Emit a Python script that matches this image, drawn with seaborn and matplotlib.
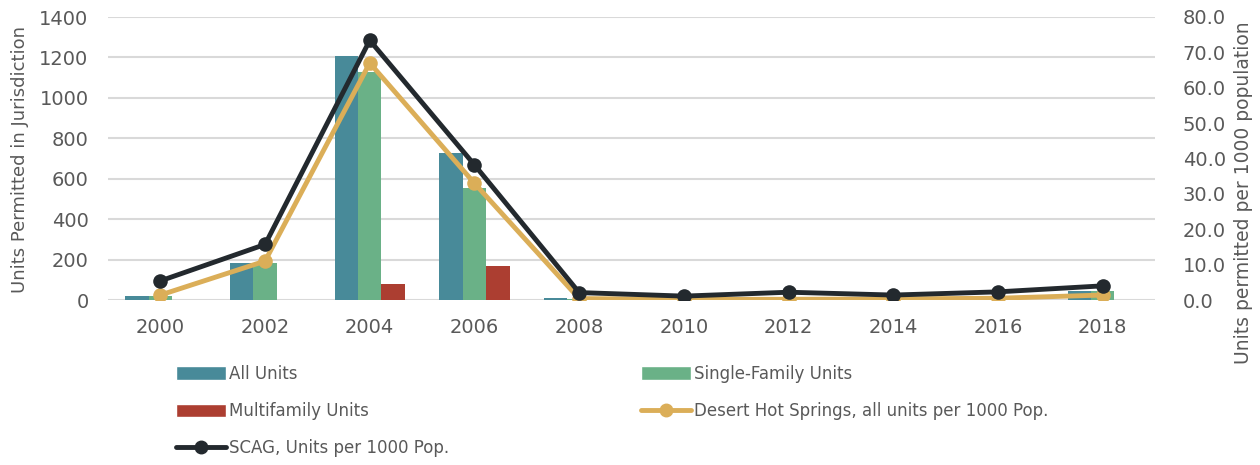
import numpy as np
import pandas as pd
import matplotlib
matplotlib.use("Agg")
import matplotlib.pyplot as plt
import seaborn as sns
from matplotlib.patches import Patch
from matplotlib.lines import Line2D

years = ["2000", "2002", "2004", "2006", "2008", "2010", "2012", "2014", "2016", "2018"]
all_units = [22, 185, 1208, 726, 8, 0, 0, 0, 0, 45]
single_family = [22, 185, 1130, 556, 6, 0, 0, 0, 0, 45]
multifamily = [0, 0, 78, 170, 0, 0, 0, 0, 0, 0]
dhs_per_1000 = [1.4, 11.0, 67.0, 33.0, 0.4, 0.2, 0.2, 0.3, 0.5, 1.4]
scag_per_1000 = [5.4, 15.7, 73.4, 38.2, 2.1, 1.1, 2.2, 1.4, 2.3, 4.0]

bar_names = ["All Units", "Single-Family Units", "Multifamily Units"]
bar_colors = ["#488A99", "#6AB187", "#AC3E31"]
dhs_label = "Desert Hot Springs, all units per 1000 Pop."
scag_label = "SCAG, Units per 1000 Pop."
dhs_color = "#DBAE58"
scag_color = "#23292E"
text_color = "#595959"

sns.set_theme(style="white")
plt.rcParams["font.family"] = ["DejaVu Sans"]

df = pd.DataFrame({
    "year": years * 3,
    "value": all_units + single_family + multifamily,
    "series": [bar_names[0]] * len(years) + [bar_names[1]] * len(years) + [bar_names[2]] * len(years),
})

fig = plt.figure(figsize=(12.6, 4.65), dpi=100)
ax = fig.add_axes([108 / 1260, 1 - 300 / 465, (1155 - 108) / 1260, (300 - 17) / 465])

sns.barplot(data=df, x="year", y="value", hue="series", hue_order=bar_names,
            palette=bar_colors, width=0.67, saturation=1, linewidth=0,
            legend=False, ax=ax, zorder=2)

ax.set_ylim(0, 1400)
ax.set_yticks(np.arange(0, 1401, 200))
ax.set_xlim(-0.5, len(years) - 0.5)
ax.yaxis.grid(True, color="#D9D9D9", linewidth=1.5, zorder=0)
ax.set_axisbelow(True)
for s in ax.spines.values():
    s.set_visible(False)
ax.tick_params(axis="both", length=0, labelsize=14, colors=text_color)
ax.tick_params(axis="x", pad=13)
ax.tick_params(axis="y", pad=14)
ax.set_xlabel("")
ax.set_ylabel("Units Permitted in Jurisdiction", fontsize=13, color=text_color)
ax.yaxis.set_label_coords(-0.075, 0.495)

ax2 = ax.twinx()
xpos = np.arange(len(years))
sns.lineplot(x=xpos, y=dhs_per_1000, color=dhs_color, linewidth=3.5, marker="o",
             markersize=10.5, markeredgewidth=0, ax=ax2, zorder=3)
sns.lineplot(x=xpos, y=scag_per_1000, color=scag_color, linewidth=3.5, marker="o",
             markersize=10.5, markeredgewidth=0, ax=ax2, zorder=4)
ax2.set_ylim(0, 80)
ax2.set_yticks(np.arange(0, 81, 10))
ax2.set_yticklabels([f"{v:.1f}" for v in np.arange(0, 81, 10)])
ax2.set_xlim(-0.5, len(years) - 0.5)
ax2.grid(False)
for s in ax2.spines.values():
    s.set_visible(False)
ax2.tick_params(axis="y", length=0, labelsize=14, colors=text_color, pad=20)
ax2.set_ylabel("Units permitted per 1000 population", fontsize=13.5, color=text_color)
ax2.yaxis.set_label_coords(1.075, 0.38)

handles = [
    Patch(facecolor=bar_colors[0], label=bar_names[0]),
    Patch(facecolor=bar_colors[2], label=bar_names[2]),
    Line2D([0], [0], color=scag_color, linewidth=3.5, marker="o", markersize=9, label=scag_label),
    Patch(facecolor=bar_colors[1], label=bar_names[1]),
    Line2D([0], [0], color=dhs_color, linewidth=3.5, marker="o", markersize=9, label=dhs_label),
]
leg = fig.legend(handles=handles, loc="upper left", bbox_to_anchor=(176 / 1260, 1 - 365 / 465),
                 ncol=2, frameon=False, fontsize=12, handlelength=3.0, handleheight=0.9,
                 handletextpad=0.2, labelspacing=1.15, columnspacing=11.5, borderaxespad=0,
                 borderpad=0)
for t in leg.get_texts():
    t.set_color(text_color)

fig.savefig("out.png", dpi=100)
